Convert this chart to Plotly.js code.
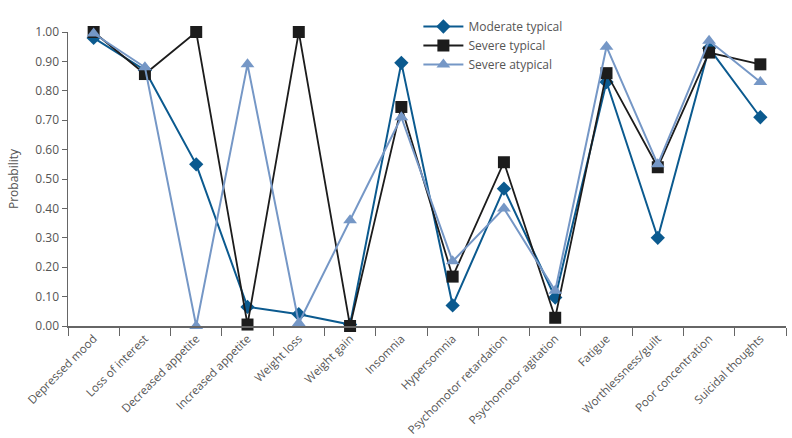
<!DOCTYPE html>
<html><head><meta charset="utf-8">
<script src="https://cdn.plot.ly/plotly-3.0.1.min.js"></script>
<style>html,body{margin:0;padding:0;background:#fff}#chart{width:792px;height:438px}</style>
</head><body><div id="chart"></div>
<script>
const categories = ["Depressed mood","Loss of interest","Decreased appetite","Increased appetite","Weight loss","Weight gain","Insomnia","Hypersomnia","Psychomotor retardation","Psychomotor agitation","Fatigue","Worthlessness/guilt","Poor concentration","Suicidal thoughts"];
const moderateTypical = [0.98,0.87,0.55,0.065,0.04,0.005,0.895,0.07,0.467,0.097,0.83,0.30,0.945,0.71];
const severeTypical   = [1.00,0.857,1.00,0.005,1.00,0.00,0.745,0.168,0.557,0.028,0.86,0.54,0.93,0.89];
const severeAtypical  = [0.995,0.88,0.00,0.89,0.01,0.36,0.71,0.22,0.40,0.12,0.95,0.55,0.97,0.83];
const yTicks = [0,0.1,0.2,0.3,0.4,0.5,0.6,0.7,0.8,0.9,1.0];

const traces = [
  {x:categories,y:moderateTypical,name:"Moderate typical",mode:"lines+markers",
   line:{color:"#0b5a8f",width:2},marker:{symbol:"diamond",size:11,color:"#0b5a8f"},cliponaxis:false},
  {x:categories,y:severeTypical,name:"Severe typical",mode:"lines+markers",
   line:{color:"#1c1c1c",width:1.8},marker:{symbol:"square",size:12,color:"#1c1c1c"},cliponaxis:false},
  {x:categories,y:severeAtypical,name:"Severe atypical",mode:"lines+markers",
   line:{color:"#7597c6",width:2},marker:{symbol:"triangle-up",size:12,color:"#7597c6"},cliponaxis:false}
];
const layout = {
  width:792,height:438,
  margin:{l:68,r:6,t:32,b:112},
  paper_bgcolor:"#fff",plot_bgcolor:"#fff",
  font:{family:"Open Sans, sans-serif",size:12,color:"#555"},
  showlegend:true,
  legend:{x:0.488,y:1.068,xanchor:"left",yanchor:"top",bgcolor:"rgba(0,0,0,0)",
          font:{size:12,color:"#555"},tracegroupgap:0,itemwidth:40},
  xaxis:{type:"category",range:[-0.5,13.5],showgrid:false,zeroline:false,
         showline:true,linecolor:"#666",linewidth:1.5,
         ticks:"outside",tickson:"boundaries",ticklen:8,tickcolor:"#666",
         tickangle:-45,tickfont:{size:11.5,color:"#555"}},
  yaxis:{range:[0,1.0],tickvals:yTicks,tickformat:".2f",showgrid:false,zeroline:false,
         showline:true,linecolor:"#666",linewidth:1.5,ticks:"outside",ticklen:5,tickcolor:"#666",
         tickfont:{size:12,color:"#555"},
         title:{text:"Probability",font:{size:12,color:"#555"},standoff:14}}
};
Plotly.newPlot("chart",traces,layout,{displayModeBar:false,staticPlot:true});
</script></body></html>
